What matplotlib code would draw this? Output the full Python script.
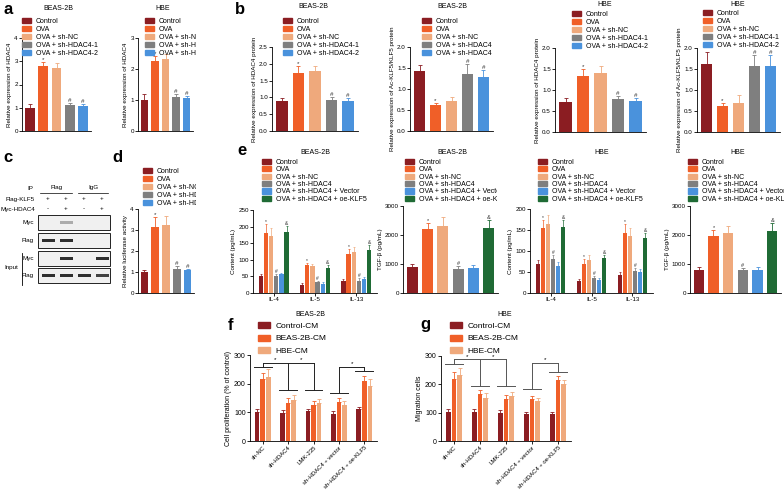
import matplotlib
matplotlib.use("Agg")
import matplotlib.pyplot as plt
import numpy as np
from matplotlib.patches import Patch, Rectangle
from matplotlib.transforms import Bbox, TransformedBbox

plt.rcParams['font.family'] = ['Liberation Sans', 'DejaVu Sans']

W, H = 784, 496

# colours
col_kd = ['#8b1d22', '#f05f28', '#efa97c', '#7f7f7f', '#4a92dc']
col_oe = ['#8b1d22', '#f05f28', '#efa97c', '#7f7f7f', '#4a92dc', '#1f6b35']
col_cm = ['#8b1d22', '#f05f28', '#efa97c']

# ---- data ----
groups_kd = ['Control', 'OVA', 'OVA + sh-NC', 'OVA + sh-HDAC4-1', 'OVA + sh-HDAC4-2']
marks_kd = ['', '*', '', '#', '#']

a_beas = [1.0, 2.78, 2.72, 1.1, 1.08]
a_beas_err = [0.15, 0.17, 0.2, 0.12, 0.1]
a_hbe = [1.0, 2.25, 2.32, 1.1, 1.05]
a_hbe_err = [0.18, 0.18, 0.17, 0.1, 0.08]

b_beas_hdac = [0.88, 1.74, 1.78, 0.93, 0.9]
b_beas_hdac_err = [0.1, 0.2, 0.15, 0.08, 0.08]
b_beas_ac = [1.44, 0.63, 0.71, 1.36, 1.29]
b_beas_ac_err = [0.13, 0.04, 0.1, 0.23, 0.17]
b_hbe_hdac = [0.71, 1.34, 1.4, 0.78, 0.74]
b_hbe_hdac_err = [0.09, 0.15, 0.17, 0.08, 0.07]
b_hbe_ac = [1.63, 0.62, 0.7, 1.56, 1.58]
b_hbe_ac_err = [0.27, 0.08, 0.18, 0.27, 0.25]

d_luc = [0.98, 3.12, 3.22, 1.15, 1.08]
d_luc_err = [0.1, 0.5, 0.47, 0.12, 0.08]

groups_oe = ['Control', 'OVA', 'OVA + sh-NC', 'OVA + sh-HDAC4',
             'OVA + sh-HDAC4 + Vector', 'OVA + sh-HDAC4 + oe-KLF5']
marks_oe = ['', '*', '', '#', '', '&']
cytokines = ['IL-4', 'IL-5', 'IL-13']
e_beas_il = [[52, 25, 35], [182, 84, 118], [173, 80, 123], [50, 32, 37], [57, 28, 42], [185, 76, 129]]
e_beas_il_err = [[5, 4, 6], [25, 7, 15], [23, 8, 15], [7, 5, 7], [4, 4, 6], [17, 8, 15]]
e_beas_tgf = [890, 2190, 2310, 830, 870, 2230]
e_beas_tgf_err = [100, 230, 300, 100, 80, 290]
e_hbe_il = [[70, 28, 43], [155, 70, 142], [165, 78, 135], [82, 36, 52], [65, 32, 51], [157, 83, 130]]
e_hbe_il_err = [[8, 5, 6], [18, 12, 22], [20, 12, 20], [8, 5, 7], [10, 4, 6], [17, 8, 13]]
e_hbe_tgf = [800, 1950, 2080, 780, 800, 2150]
e_hbe_tgf_err = [80, 230, 220, 70, 90, 250]

groups_cm = ['Control-CM', 'BEAS-2B-CM', 'HBE-CM']
treatments = ['sh-NC', 'sh-HDAC4', 'LMK-235', 'sh-HDAC4 + vector', 'sh-HDAC4 + oe-KLF5']
f_prolif = [[102, 98, 103, 95, 110], [216, 132, 124, 136, 208], [223, 142, 134, 127, 193]]
f_prolif_err = [[10, 10, 10, 10, 10], [22, 18, 15, 14, 20], [28, 18, 14, 14, 22]]
g_mig = [[103, 102, 100, 94, 94], [220, 165, 147, 147, 214], [232, 153, 158, 141, 200]]
g_mig_err = [[10, 10, 10, 10, 10], [25, 15, 14, 12, 15], [25, 15, 15, 12, 15]]
# brackets: (source group, source cap, target groups, target cap, top)
f_brackets = [(0, 258, [1, 2], 178, 273), (3, 168, [4], 245, 259)]
g_brackets = [(0, 272, [1, 2], 193, 288), (3, 185, [4], 243, 277)]

# western blot (c)
blot_lanes_klf5 = ['+', '+', '+', '+']
blot_lanes_hdac4 = ['-', '+', '-', '+']
blot_rows = ['Myc', 'Flag', 'Myc', 'Flag']
blot_bands = [[0, 0.35, 0, 0], [1, 1, 0, 0], [0, 1, 0, 1], [1, 1, 1, 0.9]]

fig = plt.figure(figsize=(W / 100, H / 100), dpi=100)


def px(x0, y0, x1, y1):
    return [x0 / W, 1 - y1 / H, (x1 - x0) / W, (y1 - y0) / H]


def style(ax, ylim, yticks, ylabel, fmt=None, lsize=4.5):
    for s in ['top', 'right']:
        ax.spines[s].set_visible(False)
    for s in ['left', 'bottom']:
        ax.spines[s].set_linewidth(0.6)
    ax.set_ylim(*ylim)
    ax.set_yticks(yticks)
    if fmt:
        ax.set_yticklabels([fmt.format(v) for v in yticks])
    ax.tick_params(length=2, width=0.6, labelsize=lsize, pad=1)
    ax.set_ylabel(ylabel, fontsize=lsize, labelpad=1.5)


def errbars(ax, x, y, e, colors, lw=0.6, cap=1.5):
    for xi, yi, ei, c in zip(x, y, e, colors):
        ax.errorbar(xi, yi, yerr=[[0], [ei]], fmt='none', ecolor=c,
                    elinewidth=lw, capsize=cap, capthick=lw)


def legend(ax, labels, colors, x, y, clip_x, size=5, spacing=0.15, hl=1.3):
    handles = [Patch(color=c) for c in colors]
    leg = ax.legend(handles, labels, loc='upper left', bbox_to_anchor=(x / W, 1 - y / H),
                    bbox_transform=fig.transFigure, frameon=False, fontsize=size,
                    handlelength=hl, handleheight=0.75, labelspacing=spacing,
                    handletextpad=0.7, borderpad=0, borderaxespad=0)
    bb = TransformedBbox(Bbox([[0, 0], [clip_x / W, 1]]), fig.transFigure)
    for t in leg.get_texts():
        t.set_clip_box(bb)
        t.set_clip_on(True)
    return leg


def simple_bars(rect, vals, errs, ylim, yticks, ylabel, title, tpos, legpos, clip_x, fmt=None):
    ax = fig.add_axes(px(*rect))
    x = np.arange(len(vals))
    ax.bar(x, vals, width=0.72, color=col_kd)
    errbars(ax, x, vals, errs, col_kd)
    for xi, v, e, m in zip(x, vals, errs, marks_kd):
        if m:
            ax.text(xi, v + e, m, ha='center', va='bottom', fontsize=4.5, color='#333')
    ax.set_xlim(-0.6, len(vals) - 0.4)
    ax.set_xticks([])
    style(ax, ylim, yticks, ylabel, fmt)
    fig.text(tpos[0] / W, 1 - tpos[1] / H, title, ha='center', va='center', fontsize=5)
    legend(ax, groups_kd, col_kd, legpos[0], legpos[1], clip_x)
    return ax


# ---- panel a ----
simple_bars((22, 38, 91, 131), a_beas, a_beas_err, (0, 4), [0, 1, 2, 3, 4],
            'Relative expression of HDAC4', 'BEAS-2B', (58, 8), (22, 18), 196)
simple_bars((138, 38, 193, 131), a_hbe, a_hbe_err, (0, 3), [0, 1, 2, 3],
            'Relative expression of HDAC4', 'HBE', (163, 8), (145, 18), 196)

# ---- panel b ----
simple_bars((272, 47, 358, 131), b_beas_hdac, b_beas_hdac_err, (0, 2.5), [0, 0.5, 1, 1.5, 2, 2.5],
            'Relative expression of HDAC4 protein', 'BEAS-2B', (313, 7), (283, 18), 400, '{:.1f}')
simple_bars((410, 47, 493, 131), b_beas_ac, b_beas_ac_err, (0, 2), [0, 0.5, 1, 1.5, 2],
            'Relative expression of Ac-KLF5/KLF5 protein', 'BEAS-2B', (452, 7), (422, 18), 492, '{:.1f}')
simple_bars((555, 48, 646, 132), b_hbe_hdac, b_hbe_hdac_err, (0, 2), [0, 0.5, 1, 1.5, 2],
            'Relative expression of HDAC4 protein', 'HBE', (605, 5), (572, 11), 680, '{:.1f}')
simple_bars((697, 48, 780, 132), b_hbe_ac, b_hbe_ac_err, (0, 2), [0, 0.5, 1, 1.5, 2],
            'Relative expression of Ac-KLF5/KLF5 protein', 'HBE', (738, 4), (703, 10), 784, '{:.1f}')

# ---- panel d ----
simple_bars((138, 209, 194, 293), d_luc, d_luc_err, (0, 4), [0, 1, 2, 3, 4],
            'Relative luciferase activity', '', (0, 0), (143, 168), 196)

# ---- panel c (western blot) ----
axc = fig.add_axes(px(0, 150, 130, 296))
axc.set_xlim(0, 130)
axc.set_ylim(296, 150)
axc.axis('off')
lane_x = 48 + 18 * np.arange(4)
fs = 4.5
axc.text(33, 188, 'IP', ha='right', va='center', fontsize=fs)
axc.text(lane_x[:2].mean(), 187, 'Flag', ha='center', va='center', fontsize=fs)
axc.text(lane_x[2:].mean(), 187, 'IgG', ha='center', va='center', fontsize=fs)
axc.plot([lane_x[0] - 8, lane_x[1] + 6], [193, 193], color='k', lw=0.5)
axc.plot([lane_x[2] - 6, lane_x[3] + 6], [193, 193], color='k', lw=0.5)
axc.text(35, 199, 'Flag-KLF5', ha='right', va='center', fontsize=fs)
axc.text(35, 209, 'Myc-HDAC4', ha='right', va='center', fontsize=fs)
for lx, s1, s2 in zip(lane_x, blot_lanes_klf5, blot_lanes_hdac4):
    axc.text(lx, 199, s1, ha='center', va='center', fontsize=fs)
    axc.text(lx, 209, s2, ha='center', va='center', fontsize=fs)
row_top = [215, 233, 251, 268]
for top, lab, bands in zip(row_top, blot_rows, blot_bands):
    axc.add_patch(Rectangle((38, top), 72, 15, facecolor='#f0f0f0', edgecolor='#222', lw=0.7))
    axc.text(34, top + 7.5, lab, ha='right', va='center', fontsize=fs)
    for lx, b in zip(lane_x, bands):
        if b > 0:
            axc.add_patch(Rectangle((lx - 6.5, top + 5.8), 13, 3.6, facecolor='#1a1a1a',
                                    alpha=b * 0.9, edgecolor='none'))
axc.plot([22, 22], [253, 285], color='k', lw=0.6)
axc.text(11, 268, 'Input', ha='center', va='center', fontsize=fs)


# ---- panel e ----
def cyto_bars(rect, vals, errs, ylim, yticks, title, tpos, legpos, clip_x):
    ax = fig.add_axes(px(*rect))
    vals = np.array(vals)
    errs = np.array(errs)
    w = 0.125
    for i in range(len(groups_oe)):
        x = np.arange(len(cytokines)) + (i - 2.5) * w
        ax.bar(x, vals[i], width=w * 0.85, color=col_oe[i])
        errbars(ax, x, vals[i], errs[i], [col_oe[i]] * 3, lw=0.5, cap=1)
        if marks_oe[i]:
            for xi, v, e in zip(x, vals[i], errs[i]):
                ax.text(xi, v + e, marks_oe[i], ha='center', va='bottom', fontsize=3.5, color='#333')
    ax.set_xlim(-0.5, 2.5)
    ax.set_xticks(range(3))
    ax.set_xticklabels(cytokines)
    style(ax, ylim, yticks, 'Content (pg/mL)')
    fig.text(tpos[0] / W, 1 - tpos[1] / H, title, ha='center', va='center', fontsize=5)
    legend(ax, groups_oe, col_oe, legpos[0], legpos[1], clip_x, size=5, spacing=0.05)


def tgf_bars(rect, vals, errs, title, tpos, legpos, clip_x):
    ax = fig.add_axes(px(*rect))
    x = np.arange(len(vals))
    ax.bar(x, vals, width=0.72, color=col_oe)
    errbars(ax, x, vals, errs, col_oe)
    for xi, v, e, m in zip(x, vals, errs, marks_oe):
        if m:
            ax.text(xi, v + e, m, ha='center', va='bottom', fontsize=4, color='#333')
    ax.set_xlim(-0.6, len(vals) - 0.4)
    ax.set_xticks([])
    style(ax, (0, 3000), [0, 1000, 2000, 3000], 'TGF-β (pg/mL)')
    fig.text(tpos[0] / W, 1 - tpos[1] / H, title, ha='center', va='center', fontsize=5)
    legend(ax, groups_oe, col_oe, legpos[0], legpos[1], clip_x, size=5, spacing=0.05)


cyto_bars((253, 210, 377, 293), e_beas_il, e_beas_il_err, (0, 250), [0, 50, 100, 150, 200, 250],
          'BEAS-2B', (315, 153), (262, 159), 400)
tgf_bars((403, 206, 498, 293), e_beas_tgf, e_beas_tgf_err, 'BEAS-2B', (452, 153), (405, 159), 497)
cyto_bars((530, 209, 653, 293), e_hbe_il, e_hbe_il_err, (0, 200), [0, 50, 100, 150, 200],
          'HBE', (602, 153), (538, 159), 680)
tgf_bars((690, 206, 781, 293), e_hbe_tgf, e_hbe_tgf_err, 'HBE', (738, 153), (688, 159), 784)


# ---- panels f, g ----
def cm_bars(rect, vals, errs, brackets, ylabel, title, tpos, legpos, bcolor):
    ax = fig.add_axes(px(*rect))
    vals = np.array(vals)
    errs = np.array(errs)
    w = 0.22
    for i in range(len(groups_cm)):
        x = np.arange(len(treatments)) + (i - 1) * w
        ax.bar(x, vals[i], width=w * 0.85, color=col_cm[i])
        errbars(ax, x, vals[i], errs[i], [col_cm[i]] * 5, lw=0.6, cap=1.2)
    for src, scap, tgts, tcap, top in brackets:
        kw = dict(color=bcolor, lw=0.7)
        ax.plot([src - 0.35, src + 0.35], [scap, scap], **kw)
        ax.plot([src, src], [scap, top], **kw)
        ax.plot([src, max(tgts)], [top, top], **kw)
        prev = src
        for t in tgts:
            ax.plot([t, t], [top, tcap], **kw)
            ax.plot([t - 0.35, t + 0.35], [tcap, tcap], **kw)
            ax.text((prev + t) / 2, top + 1, '*', ha='center', va='bottom', fontsize=4.5)
            prev = t
    ax.set_xlim(-0.5, len(treatments) - 0.5)
    ax.set_xticks(range(len(treatments)))
    ax.set_xticklabels(treatments, rotation=45, ha='right', rotation_mode='anchor', fontsize=4.3)
    style(ax, (0, 300), [0, 100, 200, 300], ylabel, lsize=5)
    ax.tick_params(axis='x', labelsize=4.3)
    fig.text(tpos[0] / W, 1 - tpos[1] / H, title, ha='center', va='center', fontsize=5)
    legend(ax, groups_cm, col_cm, legpos[0], legpos[1], 784, size=6, spacing=0.55, hl=1.4)


cm_bars((250, 355, 377, 441), f_prolif, f_prolif_err, f_brackets,
        'Cell proliferation (% of control)', 'BEAS-2B', (310, 315), (258, 322), '#222')
cm_bars((441, 356, 571, 441), g_mig, g_mig_err, g_brackets,
        'Migration cells', 'HBE', (505, 315), (450, 322), '#555')

# panel letters
for lab, (lx, ly) in zip('abcdefg', [(3, 10), (235, 10), (3, 157), (112, 157),
                                      (237, 150), (228, 325), (420, 325)]):
    fig.text(lx / W, 1 - ly / H, lab, ha='left', va='center', fontsize=12, fontweight='bold')

fig.savefig('out.png', dpi=100)
